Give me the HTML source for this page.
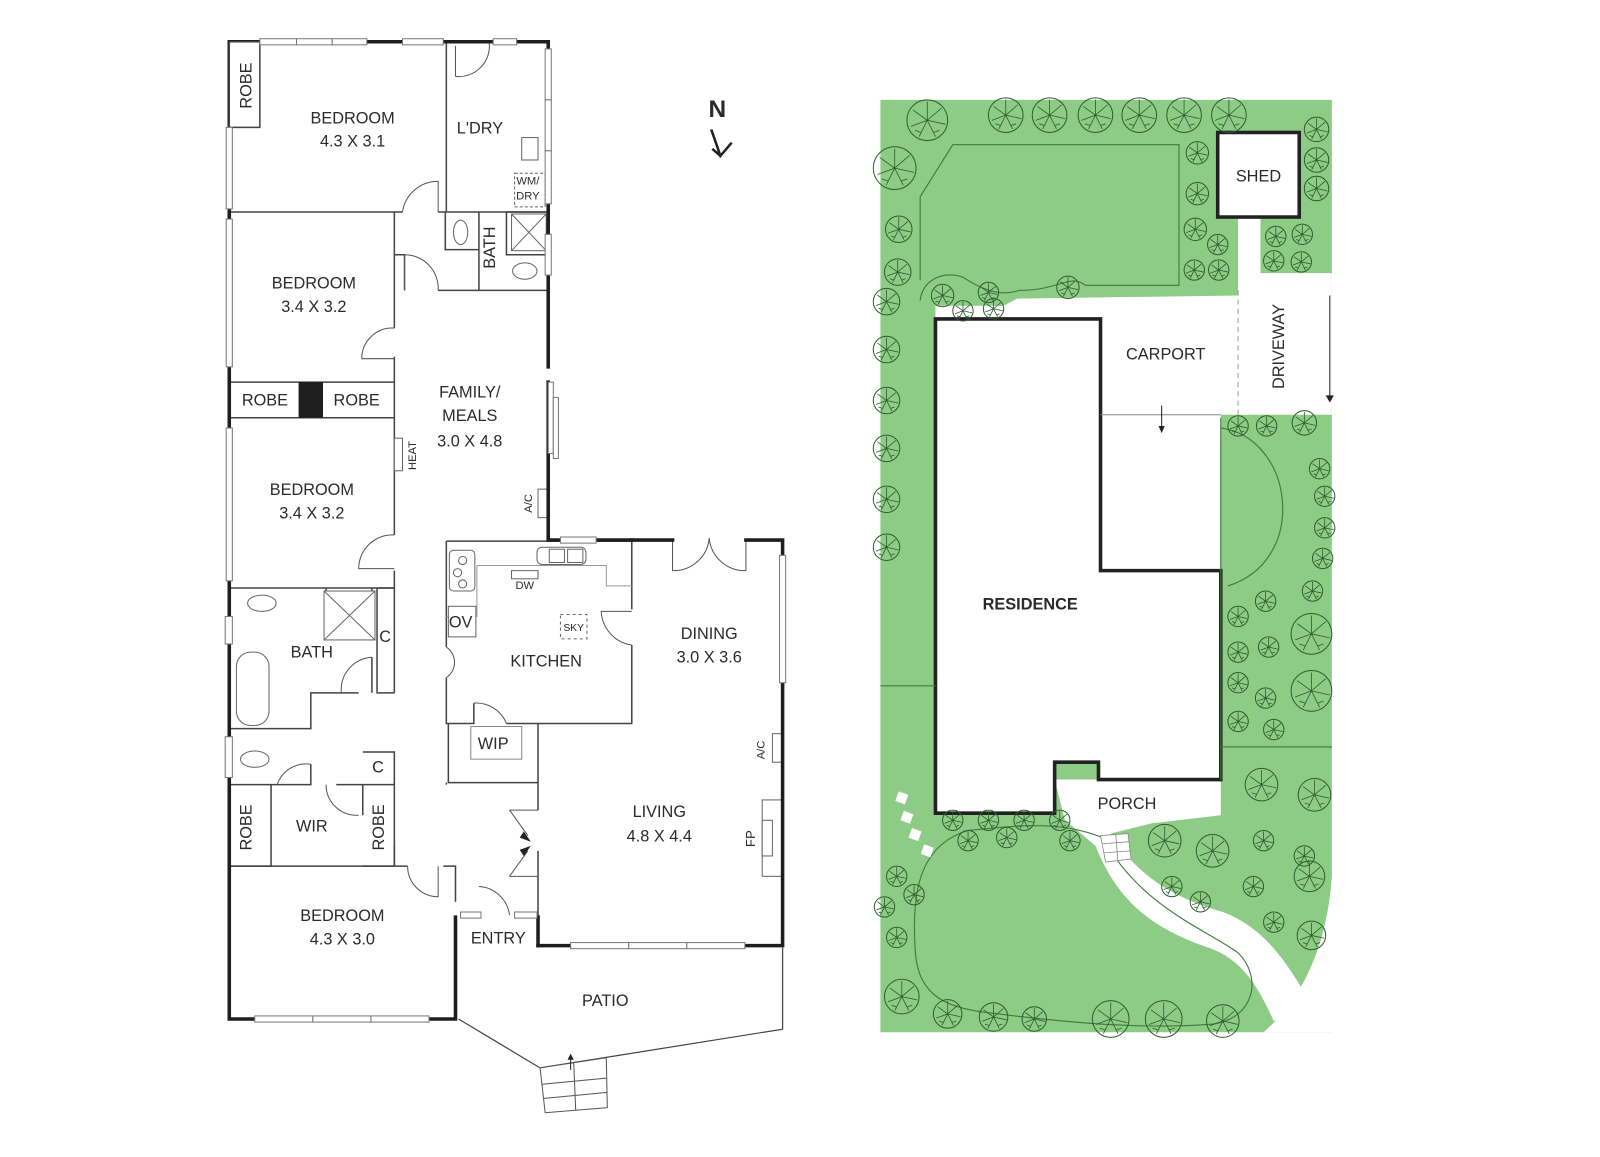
<!DOCTYPE html>
<html><head><meta charset="utf-8"><style>
html,body{margin:0;padding:0;background:#fff;}
svg{display:block;}
text{font-family:"Liberation Sans",sans-serif;fill:#2a2a2a;}
</style></head><body>
<svg width="1600" height="1157" viewBox="0 0 1600 1157" xmlns="http://www.w3.org/2000/svg">
<defs>
<g id="tr"><circle r="10" fill="none" stroke="#2f5b2f" stroke-width="1" vector-effect="non-scaling-stroke"/><path d="M0,0 L0,-9 M0,0 L7,-6 M0,0 L9,2 M0,0 L4,8 M0,0 L-4,8 M0,0 L-8,3 M0,0 L-7,-5 M-3,6 L-6,5 M3,6 L6,5" stroke="#2f5b2f" stroke-width="0.8" fill="none" vector-effect="non-scaling-stroke"/></g>
</defs>
<g transform="scale(1.019)">
<!-- ============ SITE PLAN ============ -->
<rect x="864" y="98" width="443" height="915" fill="#8ccc84"/>
<path d="M1307,860 Q1300,960 1240,1013 L1310,1013 Z" fill="#fff"/>
<path d="M998,293 L1215,290 L1215,213 L1237,213 L1237,268 L1307,268 L1307,407 L1198,407 L1198,560 L1080,560 L1080,313 L918,313 L918,300 L985,300 Z" fill="#fff"/>
<path d="M1035,765 L1198,765 L1198,800 L1130,808 L1090,818 C1110,850 1140,878 1200,895 C1245,912 1265,950 1287,985 L1250,1002 C1232,962 1215,938 1180,928 C1125,908 1095,880 1075,830 L1045,805 Z" fill="#fff"/>
<path d="M918,313 L1080,313 L1080,560 L1198,560 L1198,765 L1078,765 L1078,748 L1035,748 L1035,798 L918,798 Z" fill="#fff" stroke="#222" stroke-width="3.5"/>
<rect x="1195" y="130" width="80" height="83" fill="#fff" stroke="#222" stroke-width="3.5"/>
<g fill="none" stroke="#3f7a3f" stroke-width="1.1">
<path d="M903,275 L903,193 L935,142 L1157,142 L1157,280 L1065,280 C1050,268 1040,285 1000,285 C980,292 960,282 945,272 C925,265 905,275 903,295"/>
<path d="M1082,822 C1040,805 1000,810 950,815 C900,830 895,880 898,930 C900,980 930,990 980,995 C1060,1005 1130,1010 1190,1005 C1230,1000 1240,960 1215,935 C1180,910 1120,890 1082,822"/>
<path d="M1198,410 L1198,765 M864,673 L918,673 M1198,733 L1307,733 M1198,420 C1270,430 1285,550 1205,575"/>
</g>
<line x1="1215" y1="285" x2="1215" y2="407" stroke="#999" stroke-dasharray="5,4"/>
<line x1="1080" y1="407" x2="1198" y2="407" stroke="#888"/>
<line x1="1305" y1="290" x2="1305" y2="390" stroke="#222"/><path d="M1301,388 L1305,395 L1309,388 Z" fill="#222"/>
<line x1="1140" y1="398" x2="1140" y2="420" stroke="#222"/><path d="M1137,418 L1140,425 L1143,418 Z" fill="#222"/>
<g fill="#fff"><rect x="880" y="778" width="10" height="10" transform="rotate(20 885 783)"/><rect x="885" y="797" width="10" height="10" transform="rotate(20 890 802)"/><rect x="893" y="814" width="10" height="10" transform="rotate(20 898 819)"/><rect x="905" y="830" width="10" height="10" transform="rotate(20 910 835)"/></g>
<g fill="#fff" stroke="#888" stroke-width="0.8"><path d="M1080,820 L1107,818 L1110,843 L1085,846 Z M1082,828 L1108,826 M1083,837 L1109,835 M1095,819 L1097,845"/></g>
<g>
<use href="#tr" transform="translate(910,118) scale(2)"/>
<use href="#tr" transform="translate(987,113) scale(1.7)"/>
<use href="#tr" transform="translate(1030,113) scale(1.7)"/>
<use href="#tr" transform="translate(1075,113) scale(1.7)"/>
<use href="#tr" transform="translate(1118,113) scale(1.7)"/>
<use href="#tr" transform="translate(1162,113) scale(1.7)"/>
<use href="#tr" transform="translate(1206,113) scale(1.7)"/>
<use href="#tr" transform="translate(878,165) scale(2.1)"/>
<use href="#tr" transform="translate(882,225) scale(1.3)"/>
<use href="#tr" transform="translate(881,267) scale(1.3)"/>
<use href="#tr" transform="translate(870,296) scale(1.3)"/>
<use href="#tr" transform="translate(870,343) scale(1.3)"/>
<use href="#tr" transform="translate(870,393) scale(1.3)"/>
<use href="#tr" transform="translate(870,440) scale(1.3)"/>
<use href="#tr" transform="translate(870,490) scale(1.3)"/>
<use href="#tr" transform="translate(870,537) scale(1.3)"/>
<use href="#tr" transform="translate(1175,150) scale(1.1)"/>
<use href="#tr" transform="translate(1175,190) scale(1.1)"/>
<use href="#tr" transform="translate(1173,225) scale(1.1)"/>
<use href="#tr" transform="translate(1195,240) scale(1)"/>
<use href="#tr" transform="translate(1172,265) scale(1)"/>
<use href="#tr" transform="translate(1196,265) scale(1)"/>
<use href="#tr" transform="translate(1292,127) scale(1.2)"/>
<use href="#tr" transform="translate(1292,157) scale(1.2)"/>
<use href="#tr" transform="translate(1292,185) scale(1.2)"/>
<use href="#tr" transform="translate(1252,232) scale(1)"/>
<use href="#tr" transform="translate(1278,230) scale(1)"/>
<use href="#tr" transform="translate(1250,256) scale(1)"/>
<use href="#tr" transform="translate(1277,257) scale(1)"/>
<use href="#tr" transform="translate(925,290) scale(1.1)"/>
<use href="#tr" transform="translate(970,287) scale(1)"/>
<use href="#tr" transform="translate(1048,282) scale(1.1)"/>
<use href="#tr" transform="translate(945,305) scale(1)"/>
<use href="#tr" transform="translate(975,303) scale(1)"/>
<use href="#tr" transform="translate(1215,418) scale(1)"/><use href="#tr" transform="translate(1243,418) scale(1)"/><use href="#tr" transform="translate(1280,415) scale(1.2)"/>
<use href="#tr" transform="translate(1295,460) scale(1)"/><use href="#tr" transform="translate(1300,487) scale(1)"/><use href="#tr" transform="translate(1300,518) scale(1)"/><use href="#tr" transform="translate(1298,548) scale(1)"/>
<use href="#tr" transform="translate(1215,605) scale(1)"/><use href="#tr" transform="translate(1242,590) scale(1)"/><use href="#tr" transform="translate(1288,580) scale(1)"/><use href="#tr" transform="translate(1287,622) scale(2)"/>
<use href="#tr" transform="translate(1215,640) scale(1)"/><use href="#tr" transform="translate(1245,635) scale(1)"/><use href="#tr" transform="translate(1215,670) scale(1)"/><use href="#tr" transform="translate(1242,685) scale(1)"/>
<use href="#tr" transform="translate(1287,678) scale(2)"/><use href="#tr" transform="translate(1215,708) scale(1)"/><use href="#tr" transform="translate(1250,716) scale(1)"/>
<use href="#tr" transform="translate(1238,770) scale(1.6)"/><use href="#tr" transform="translate(1290,780) scale(1.6)"/><use href="#tr" transform="translate(1143,825) scale(1.6)"/><use href="#tr" transform="translate(1190,835) scale(1.6)"/>
<use href="#tr" transform="translate(1240,825) scale(1)"/><use href="#tr" transform="translate(1280,840) scale(1)"/><use href="#tr" transform="translate(1150,870) scale(1)"/><use href="#tr" transform="translate(1178,885) scale(1)"/>
<use href="#tr" transform="translate(1230,870) scale(1)"/><use href="#tr" transform="translate(1285,860) scale(1.5)"/><use href="#tr" transform="translate(1250,905) scale(1)"/><use href="#tr" transform="translate(1287,918) scale(1.4)"/>
<use href="#tr" transform="translate(935,805) scale(1)"/><use href="#tr" transform="translate(970,805) scale(1)"/><use href="#tr" transform="translate(1005,805) scale(1)"/><use href="#tr" transform="translate(1040,805) scale(1)"/>
<use href="#tr" transform="translate(950,825) scale(1)"/><use href="#tr" transform="translate(988,822) scale(1)"/><use href="#tr" transform="translate(1050,825) scale(1)"/>
<use href="#tr" transform="translate(880,860) scale(1)"/><use href="#tr" transform="translate(897,878) scale(1)"/><use href="#tr" transform="translate(868,890) scale(1)"/><use href="#tr" transform="translate(880,920) scale(1)"/>
<use href="#tr" transform="translate(885,978) scale(1.7)"/><use href="#tr" transform="translate(930,995) scale(1.4)"/><use href="#tr" transform="translate(975,998) scale(1.4)"/><use href="#tr" transform="translate(1015,1000) scale(1.2)"/>
<use href="#tr" transform="translate(1090,1000) scale(1.8)"/><use href="#tr" transform="translate(1142,1000) scale(1.8)"/><use href="#tr" transform="translate(1200,1002) scale(1.6)"/>
</g>
<text x="1235" y="178" font-size="16" text-anchor="middle">SHED</text>
<text x="1144" y="353" font-size="16" text-anchor="middle">CARPORT</text>
<text transform="translate(1260,340) rotate(-90)" font-size="16" text-anchor="middle">DRIVEWAY</text>
<text x="1011" y="598" font-size="16" font-weight="bold" text-anchor="middle">RESIDENCE</text>
<text x="1106" y="794" font-size="16" text-anchor="middle">PORCH</text>

<text x="704" y="115" font-size="24" font-weight="bold" text-anchor="middle">N</text>
<path d="M698,127 L707,153 L718,140 M707,153 L699,146" fill="none" stroke="#222" stroke-width="2.5"/>

<!-- ============ FLOOR PLAN ============ -->
<path d="M450,1000 L530,1048 L768,1010 L768,930" fill="none" stroke="#444" stroke-width="1.2"/>
<path d="M530,1048 L595,1038 L596,1087 L535,1092 Z M532,1064 L595,1058 M533,1078 L596,1072 M563,1043 L565,1090" fill="#fff" stroke="#555" stroke-width="1"/>
<line x1="560" y1="1050" x2="560" y2="1038" stroke="#222"/><path d="M557,1040 L560,1034 L563,1040Z" fill="#222"/>

<g fill="none" stroke="#444" stroke-width="1.5">
<path d="M225,208 H395 M430,208 H438 M438,41 V208 M438,208 H538"/>
<path d="M387,208 V322 M387,350 V525 M387,560 V577 M387,250 H397 V285 M430,285 H538"/>
<path d="M437,208 V245 H470 V285 M470,208 V285 M497,208 H538 V250 M497,208 V250 H538"/>
<path d="M225,375 H387 M225,410 H387"/>
<path d="M225,577 H387 M320,577 V605 M320,577 H365 V603"/>
<path d="M370,577 V680 H387 M370,577 H387 M387,577 V680 M225,715 H305 V680 H352 M365,645 V680"/>
<path d="M225,770 H305 V750 M225,770 V850 M225,850 H266 V770 M356,738 H387 V850 M356,770 H387 M356,850 H387 M330,770 H356 V800"/>
<path d="M225,850 H387 M387,850 V830 M387,850 H400 M435,850 H447 V885"/>
<path d="M438,531 H620 V598 M620,633 V710 H528 M438,531 V635 M438,665 V710 H465 V690 M497,710 H528 M440,710 V768 H528 V710 M528,768 V795 M528,835 V928 M438,768 V770"/>
<path d="M462,713 H512 V745 H462 Z" stroke="#888" stroke-width="1"/>
<path d="M468,555 H595 V575 H620 M468,555 V605 H438" stroke="#999" stroke-width="1"/>
</g>
<g fill="none" stroke="#555" stroke-width="1">
<path d="M395,208 A35,35 0 0 1 430,178 V208"/>
<path d="M397,285 V250 A33,33 0 0 1 430,285"/>
<path d="M387,322 A30,30 0 0 0 355,352 H387"/>
<path d="M387,525 A33,33 0 0 0 352,558 H387"/>
<path d="M447,75 A30,30 0 0 0 480,41 M447,75 V45"/>
<path d="M365,645 A32,32 0 0 0 335,680"/>
<path d="M305,750 A30,30 0 0 0 272,770"/>
<path d="M320,770 A30,30 0 0 0 352,800"/>
<path d="M400,850 A30,30 0 0 0 430,880 V850"/>
<path d="M438,635 A18,18 0 0 1 438,665"/>
<path d="M465,690 A32,32 0 0 1 497,710"/>
<path d="M620,633 A35,35 0 0 1 590,600 H620"/>
<path d="M660,530 V560 A35,35 0 0 0 696,528 A35,35 0 0 0 732,560 V530"/>
<path d="M470,870 A32,32 0 0 1 500,898"/>
<path d="M500,795 L518,820 M500,860 L518,835 M500,795 H528 M500,860 H528"/>
</g>
<path d="M514,816 L521,826 L510,822Z M514,840 L521,830 L510,834Z" fill="#222"/>
<g fill="#fff" stroke="#666" stroke-width="1">
<ellipse cx="452" cy="228" rx="7" ry="12"/>
<rect x="502" y="210" width="34" height="36"/><path d="M502,210 L536,246 M536,210 L502,246"/>
<ellipse cx="515" cy="266" rx="12" ry="8"/>
<rect x="512" y="135" width="16" height="22"/>
<rect x="505" y="170" width="30" height="33" stroke-dasharray="3,2"/>
<ellipse cx="257" cy="592" rx="14" ry="8"/>
<rect x="318" y="580" width="50" height="48"/><path d="M318,580 L368,628 M368,580 L318,628"/>
<rect x="232" y="640" width="32" height="72" rx="14"/>
<ellipse cx="250" cy="745" rx="14" ry="8"/>
<rect x="441" y="540" width="25" height="40" rx="4"/>
<circle cx="454" cy="550" r="4"/><circle cx="449" cy="562" r="4"/><circle cx="454" cy="573" r="4"/>
<rect x="527" y="537" width="48" height="17" rx="5"/><rect x="539" y="539" width="15" height="13"/><rect x="557" y="539" width="15" height="13"/>
<rect x="502" y="560" width="26" height="8"/>
<rect x="550" y="603" width="26" height="24" stroke-dasharray="3,3"/>
<rect x="748" y="785" width="20" height="75"/><rect x="748" y="805" width="10" height="35"/>
<rect x="758" y="720" width="10" height="28"/>
<rect x="528" y="480" width="10" height="28"/>
<rect x="387" y="430" width="8" height="32"/>
<rect x="440" y="595" width="27" height="30"/>
</g>
<g fill="none" stroke="#1e1e1e" stroke-width="3.5" stroke-linecap="square">
<path d="M225,41 H538 V360"/>
<path d="M538,375 V530 H620"/>
<path d="M620,530 H660 M732,530 H768 V928 H528"/>
<path d="M225,41 V1000 H447 V900"/>
<path d="M528,900 V928"/>
</g>
<rect x="293" y="375" width="24" height="35" fill="#1e1e1e"/>
<rect x="225" y="41" width="30" height="84" fill="#fff" stroke="#444" stroke-width="1.5"/>
<g fill="#fff" stroke="#777" stroke-width="1">
<rect x="255" y="38" width="36" height="6"/><rect x="291" y="38" width="35" height="6"/><rect x="326" y="38" width="34" height="6"/>
<rect x="395" y="38" width="40" height="6"/><rect x="484" y="38" width="23" height="6"/>
<rect x="535" y="48" width="6" height="50"/><rect x="535" y="98" width="6" height="50"/><rect x="535" y="148" width="6" height="52"/><rect x="535" y="230" width="6" height="40"/>
<rect x="538" y="375" width="5" height="70"/><rect x="543" y="390" width="5" height="60"/>
<rect x="222" y="125" width="6" height="80"/><rect x="222" y="215" width="6" height="145"/><rect x="222" y="420" width="6" height="150"/>
<rect x="221" y="605" width="7" height="27"/><rect x="221" y="723" width="7" height="40"/>
<rect x="550" y="527" width="35" height="6"/>
<rect x="765" y="545" width="6" height="125"/>
<rect x="560" y="925" width="57" height="6"/><rect x="617" y="925" width="57" height="6"/><rect x="674" y="925" width="57" height="6"/>
<rect x="250" y="997" width="57" height="6"/><rect x="307" y="997" width="57" height="6"/><rect x="364" y="997" width="57" height="6"/>
<rect x="452" y="895" width="20" height="6"/><rect x="505" y="895" width="22" height="6"/>
</g>
<g font-size="16" text-anchor="middle">
<text x="346" y="121">BEDROOM</text><text x="346" y="144">4.3 X 3.1</text>
<text x="471" y="131">L'DRY</text>
<text x="308" y="283">BEDROOM</text><text x="308" y="306">3.4 X 3.2</text>
<text x="260" y="398">ROBE</text><text x="350" y="398">ROBE</text>
<text x="461" y="390">FAMILY/</text><text x="461" y="413">MEALS</text><text x="461" y="438">3.0 X 4.8</text>
<text x="306" y="486">BEDROOM</text><text x="306" y="509">3.4 X 3.2</text>
<text x="306" y="645">BATH</text>
<text x="378" y="630">C</text><text x="371" y="758">C</text>
<text x="452" y="616">OV</text>
<text x="536" y="654">KITCHEN</text>
<text x="484" y="735">WIP</text>
<text x="696" y="627">DINING</text><text x="696" y="650">3.0 X 3.6</text>
<text x="647" y="802">LIVING</text><text x="647" y="826">4.8 X 4.4</text>
<text x="306" y="816">WIR</text>
<text x="336" y="904">BEDROOM</text><text x="336" y="927">4.3 X 3.0</text>
<text x="489" y="926">ENTRY</text>
<text x="594" y="987">PATIO</text>
<text transform="translate(247,84) rotate(-90)">ROBE</text>
<text transform="translate(486,243) rotate(-90)">BATH</text>
<text transform="translate(247,812) rotate(-90)">ROBE</text>
<text transform="translate(377,812) rotate(-90)">ROBE</text>
</g>
<g font-size="11" text-anchor="middle">
<text x="518" y="181">WM/</text><text x="518" y="196">DRY</text>
<text x="515" y="578">DW</text>
<text x="563" y="619" font-size="10">SKY</text>
<text transform="translate(408,447) rotate(-90)">HEAT</text>
<text transform="translate(522,494) rotate(-90)">A/C</text>
<text transform="translate(750,736) rotate(-90)">A/C</text>
<text transform="translate(741,823) rotate(-90)" font-size="13">FP</text>
</g>
</g>
</svg>
</body></html>
